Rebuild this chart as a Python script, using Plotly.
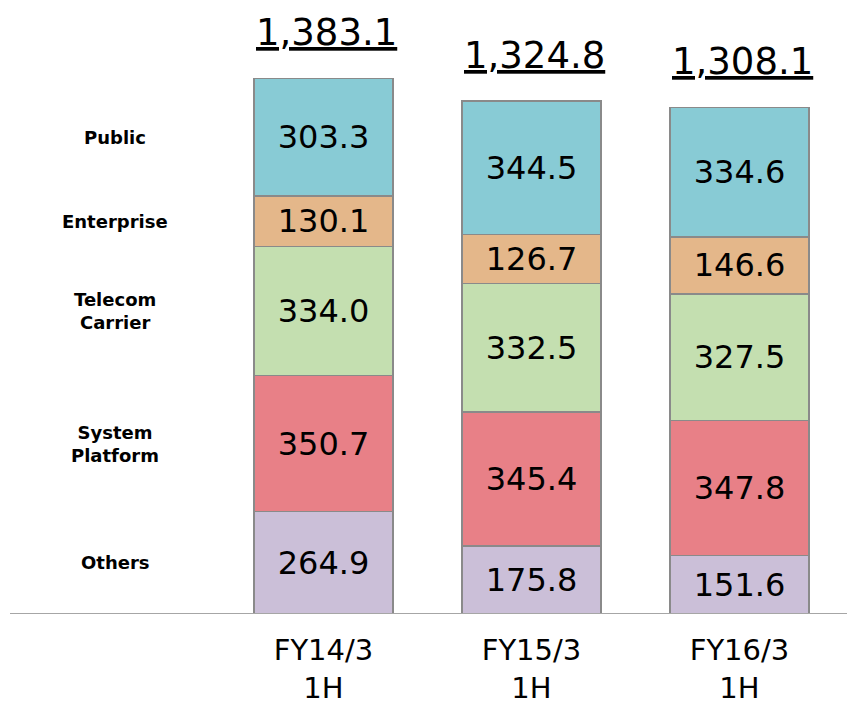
import plotly.graph_objects as go

categories = ["FY14/3<br>1H", "FY15/3<br>1H", "FY16/3<br>1H"]
segments = ["Others", "System<br>Platform", "Telecom<br>Carrier", "Enterprise", "Public"]
others = [264.9, 175.8, 151.6]
system_platform = [350.7, 345.4, 347.8]
telecom_carrier = [334.0, 332.5, 327.5]
enterprise = [130.1, 126.7, 146.6]
public = [303.3, 344.5, 334.6]
totals = [1383.1, 1324.8, 1308.1]

series = [others, system_platform, telecom_carrier, enterprise, public]
colors = ["#CBBFD8", "#E88087", "#C4DFB0", "#E4B78A", "#88CBD5"]

FONT = "DejaVu Sans"
xs = [0, 1, 2]

fig = go.Figure()
for name, vals, col in zip(segments, series, colors):
    fig.add_trace(go.Bar(
        x=xs, y=vals, name=name, width=0.668,
        marker=dict(color=col, line=dict(color="#8A8A8A", width=1.5)),
        texttemplate="%{y:.1f}", textposition="inside", insidetextanchor="middle",
        constraintext="none",
        textfont=dict(family=FONT, size=32, color="#000000"),
        hoverinfo="skip",
    ))

annotations = []
cum = 0
for name, vals in zip(segments, series):
    mid = cum + vals[0] / 2
    cum += vals[0]
    annotations.append(dict(
        x=-1.0, y=mid, xref="x", yref="y", text="<b>" + name + "</b>",
        showarrow=False, font=dict(family=FONT, size=18, color="#000000"),
        xanchor="center", yanchor="middle", align="center",
    ))
for x, t in zip(xs, totals):
    annotations.append(dict(
        x=x, y=t, xref="x", yref="y", text="<u>" + f"{t:,.1f}" + "</u>",
        showarrow=False, font=dict(family=FONT, size=37, color="#000000"),
        xanchor="center", yanchor="bottom", yshift=22, xshift=3,
    ))

fig.update_layout(
    width=847, height=708,
    margin=dict(l=10, r=0, t=0, b=94),
    barmode="stack", showlegend=False,
    plot_bgcolor="white", paper_bgcolor="white",
    annotations=annotations,
    shapes=[dict(type="line", xref="paper", yref="y", x0=0, x1=1, y0=0, y1=0,
                 line=dict(color="#A6A6A6", width=2))],
    xaxis=dict(range=[-1.507, 2.517], tickvals=xs, ticktext=categories,
               showgrid=False, zeroline=False, showline=False, ticks="",
               ticklabelstandoff=16,
               tickfont=dict(family=FONT, size=29, color="#000000")),
    yaxis=dict(range=[0, 1585.7], visible=False, showgrid=False, zeroline=False),
)

fig.write_html("out.html", config={"displayModeBar": False},
               post_script="document.body.style.margin='0';document.body.style.overflow='hidden';")
